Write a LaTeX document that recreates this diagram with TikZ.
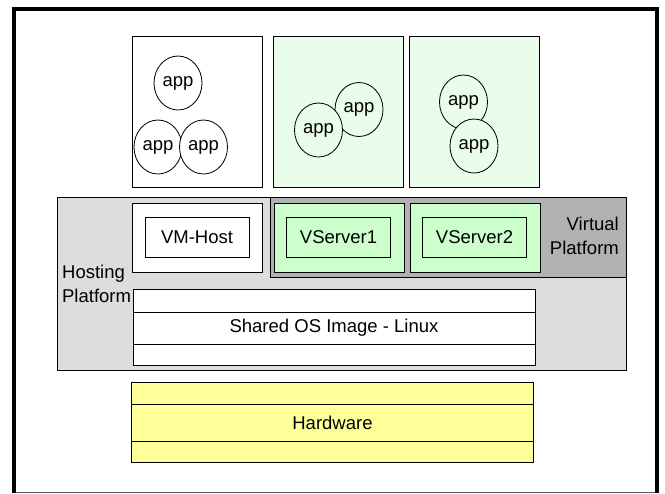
\documentclass[tikz,border=0pt]{standalone}
\usepackage{fontspec}
\setmainfont{Liberation Sans}
\usetikzlibrary{positioning,shapes.geometric}

\definecolor{appgreen}{RGB}{234,252,234}
\definecolor{vgreen}{RGB}{204,255,204}
\definecolor{hostgray}{RGB}{221,221,221}
\definecolor{virtgray}{RGB}{178,178,178}
\definecolor{hwyellow}{RGB}{255,255,153}

\tikzset{
    box/.style={draw, line width=0.7pt, outer sep=0pt, inner sep=0pt},
    appbox/.style={box, minimum width=3.9cm, minimum height=4.53cm},
    appball/.style={ellipse, draw, line width=0.7pt, minimum width=1.44cm, minimum height=1.62cm, inner sep=0pt},
    guest/.style={box, minimum width=3.9cm, minimum height=2.07cm},
    guestname/.style={box, minimum width=3.12cm, minimum height=1.2cm},
    band/.style={box, minimum width=12.06cm}
}

\begin{document}
\begin{tikzpicture}[x=0.03cm, y=-0.03cm, font=\fontsize{15.8}{21}\selectfont]
    \useasboundingbox (0,0) rectangle (665,493);

    % Rahmen
    \draw[line width=3.4pt] (14,493) -- (14,9) -- (657,9) -- (657,493);
    \draw[gray!70!black, line width=0.8pt] (16,492) -- (655,492);

    % Anwendungen oben
    \node[appbox, fill=white] (apps0) at (197,111.5) {};
    \node[appbox, fill=appgreen] (apps1) at (338,111.5) {};
    \node[appbox, fill=appgreen] (apps2) at (474,111.5) {};

    \node[appball, fill=white] (app0a) at (178,83) {app};
    \node[appball, fill=white] (app0b) at (158,147) {app};
    \node[appball, fill=white] (app0c) at (203.5,147) {app};

    \node[appball, fill=appgreen] (app1a) at (359,109.5) {app};
    \node[appball, fill=appgreen] (app1b) at (318.5,130) {app};

    \node[appball, fill=appgreen] (app2a) at (463.5,102) {app};
    \node[appball, fill=appgreen] (app2b) at (474,146) {app};

    % Hosting- und Virtual-Plattform
    \node[box, fill=hostgray, minimum width=17.07cm, minimum height=5.19cm] (hosting) at (341.5,283.5) {};
    \node[box, fill=virtgray, minimum width=10.68cm, minimum height=2.4cm] (virtual) at (448,237) {};

    \node[anchor=west, align=left] (hostlabel) at (58,284) {Hosting\\Platform};
    \node[anchor=east, align=right] (virtlabel) at (623,236) {Virtual\\Platform};

    % Gaeste
    \node[guest, fill=white] (host) at (197.5,237.5) {};
    \node[guestname, fill=white] (hostname) at (197,237) {VM-Host};
    \node[guest, fill=vgreen] (vs1) at (339,237.5) {};
    \node[guestname, fill=vgreen] (vs1name) at (338.5,237) {VServer1};
    \node[guest, fill=vgreen] (vs2) at (475,237.5) {};
    \node[guestname, fill=vgreen] (vs2name) at (474.5,237) {VServer2};

    % Shared OS Image
    \node[band, fill=white, minimum height=0.69cm] (osTop) at (334,300.5) {};
    \node[band, fill=white, minimum height=0.96cm, below=0pt of osTop] (os) {Shared OS Image - Linux};
    \node[band, fill=white, minimum height=0.63cm, below=0pt of os] (osBot) {};

    % Hardware
    \node[band, fill=hwyellow, minimum height=0.66cm] (hwTop) at (332.5,393) {};
    \node[band, fill=hwyellow, minimum height=1.11cm, below=0pt of hwTop] (hw) {Hardware};
    \node[band, fill=hwyellow, minimum height=0.63cm, below=0pt of hw] (hwBot) {};
\end{tikzpicture}
\end{document}
